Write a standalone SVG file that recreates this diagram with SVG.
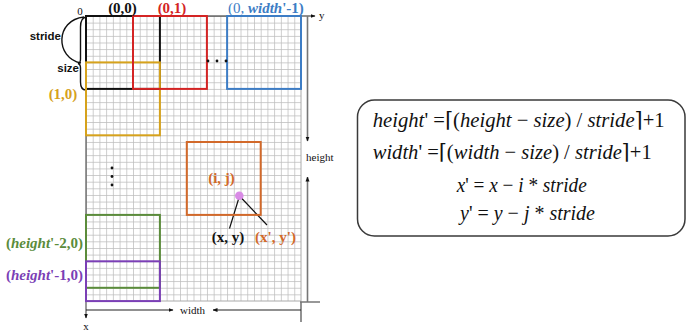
<svg xmlns="http://www.w3.org/2000/svg" width="698" height="334" viewBox="0 0 698 334">
<style>
.lbl{font-family:"Liberation Serif","DejaVu Serif",serif;font-weight:bold;font-size:15px}
.it{font-style:italic}
.win{fill:none;stroke-width:2}
.dim{font-family:"Liberation Serif","DejaVu Serif",serif;font-size:11px;fill:#111}
.sans{font-family:"Liberation Sans","DejaVu Sans",sans-serif;font-weight:bold;font-size:11.5px;fill:#111}
.f{font-family:"Liberation Serif","DejaVu Serif",serif;font-size:21px;fill:#111}
.ax{stroke:#222;stroke-width:1.1;fill:none}
.gr{stroke:#777;stroke-width:1.6;fill:none}
</style>
<defs>
<pattern id="grid" x="86" y="16" width="6.719" height="6.628" patternUnits="userSpaceOnUse">
<path d="M0.4,0 V6.628 M0,0.4 H6.719" stroke="#bcbcbc" stroke-width="0.8" fill="none"/>
</pattern>
<marker id="ah" viewBox="0 0 10 10" refX="9" refY="5" markerWidth="5" markerHeight="5" orient="auto-start-reverse" markerUnits="userSpaceOnUse">
<path d="M0,1 L10,5 L0,9 z" fill="#111"/>
</marker>
</defs>
<rect width="698" height="334" fill="#fff"/>

<g id="grid-area">
<rect x="86" y="16" width="215" height="285" fill="url(#grid)"/>
<path d="M301,16 V302 M86,301 H301" stroke="#aaa" stroke-width="1" fill="none"/>
</g>

<g id="connectors">
<path class="ax" d="M86,16 H315" marker-end="url(#ah)"/>
<path d="M86,16 V318" stroke="#555" stroke-width="1.2" fill="none" marker-end="url(#ah)"/>
<path class="gr" d="M307.5,16 V141" marker-end="url(#ah)"/>
<path class="gr" d="M307.5,302 V177" marker-end="url(#ah)"/>
<path class="gr" d="M300,302 H320 M301,302 V322"/>
<path class="ax" d="M86,310 H173" marker-end="url(#ah)"/>
<path class="ax" d="M301,310 H213" marker-end="url(#ah)"/>
<path d="M84,17 C55,20 55,58 81,63" stroke="#111" stroke-width="1.4" fill="none"/>
<path d="M86,17 Q80.5,18 80.5,27 L80.5,59 Q80.5,63 78,63.5 Q80.5,64 80.5,68 L80.5,82 Q80.5,90 86,90" stroke="#111" stroke-width="1.4" fill="none"/>
<path d="M239.5,196 L229.5,228.5 M239.5,196 L267,225" stroke="#111" stroke-width="1.2" fill="none"/>
</g>

<g id="win-0-0"><rect class="win" x="86" y="16" width="73.9" height="72.9" stroke="#111"/></g>
<g id="win-1-0"><rect class="win" x="86" y="62.4" width="73.9" height="72.9" stroke="#d6a21c"/></g>
<g id="win-0-1"><rect class="win" x="133" y="16" width="73.9" height="72.9" stroke="#d42424"/></g>
<g id="win-0-w"><rect class="win" x="227.1" y="16" width="73.9" height="72.9" stroke="#3d7dc5"/></g>
<g id="win-i-j"><rect class="win" x="186.8" y="142" width="73.9" height="72.9" stroke="#d2692a"/></g>
<g id="win-h2-0"><rect class="win" x="86" y="214.9" width="73.9" height="72.9" stroke="#5b8c3b"/></g>
<g id="win-h1-0"><rect class="win" x="86" y="261.3" width="73.9" height="39.8" stroke="#7b3fb6"/></g>

<g id="dots" fill="#111">
<circle cx="208" cy="61" r="1.4"/><circle cx="217" cy="61" r="1.4"/><circle cx="226" cy="61" r="1.4"/>
<circle cx="112" cy="168" r="1.4"/><circle cx="112" cy="176.5" r="1.4"/><circle cx="112" cy="185" r="1.4"/>
</g>
<g id="point"><circle cx="239.3" cy="195.7" r="4.3" fill="#d98be6"/></g>

<g id="labels">
<text class="dim" x="80" y="15" text-anchor="middle" font-size="11">0</text>
<text class="dim" x="319" y="19" font-size="14">y</text>
<text class="dim" x="86" y="330" text-anchor="middle" font-size="12">x</text>
<text class="dim" x="180" y="313.5">width</text>
<text class="dim" x="306" y="161">height</text>
<text class="sans" x="61" y="40" text-anchor="end">stride</text>
<text class="sans" x="79" y="71.5" text-anchor="end">size</text>
<text class="lbl" x="122.5" y="12.5" text-anchor="middle" font-size="14.5" fill="#111">(0,0)</text>
<text class="lbl" x="172" y="12.5" text-anchor="middle" font-size="14.5" fill="#d42424">(0,1)</text>
<text class="lbl" x="228" y="12.5" font-size="14" fill="#3d7dc5"><tspan font-weight="normal">(0, </tspan><tspan class="it">width</tspan>'-1)</text>
<text class="lbl" x="63" y="99" text-anchor="middle" fill="#d6a21c">(1,0)</text>
<text class="lbl" x="83" y="247.5" text-anchor="end" font-size="14" fill="#5b8c3b">(<tspan class="it">height</tspan>'-2,0)</text>
<text class="lbl" x="83" y="280" text-anchor="end" font-size="14" fill="#7b3fb6">(<tspan class="it">height</tspan>'-1,0)</text>
<text class="lbl" x="221.5" y="182.5" text-anchor="middle" fill="#d2692a">(i, j)</text>
<text class="lbl" x="228" y="242" text-anchor="middle" fill="#111">(x, y)</text>
<text class="lbl" x="275.5" y="242" text-anchor="middle" fill="#d2692a">(x', y')</text>
</g>

<g id="formula-box">
<rect x="357.5" y="100" width="327.5" height="136" rx="17" fill="#fff" stroke="#3a3a3a" stroke-width="1.5"/>
<text class="f" x="372.7" y="127" textLength="292" lengthAdjust="spacingAndGlyphs"><tspan class="it">height</tspan>' =⌈(<tspan class="it">height</tspan> − <tspan class="it">size</tspan>) / <tspan class="it">stride</tspan>⌉+1</text>
<text class="f" x="372.7" y="159" textLength="279" lengthAdjust="spacingAndGlyphs"><tspan class="it">width</tspan>' =⌈(<tspan class="it">width</tspan> − <tspan class="it">size</tspan>) / <tspan class="it">stride</tspan>⌉+1</text>
<text class="f" x="456.7" y="192" textLength="130" lengthAdjust="spacingAndGlyphs"><tspan class="it">x</tspan>' = <tspan class="it">x</tspan> − <tspan class="it">i</tspan> * <tspan class="it">stride</tspan></text>
<text class="f" x="460" y="219.5" textLength="135" lengthAdjust="spacingAndGlyphs"><tspan class="it">y</tspan>' = <tspan class="it">y</tspan> − <tspan class="it">j</tspan> * <tspan class="it">stride</tspan></text>
</g>
</svg>
